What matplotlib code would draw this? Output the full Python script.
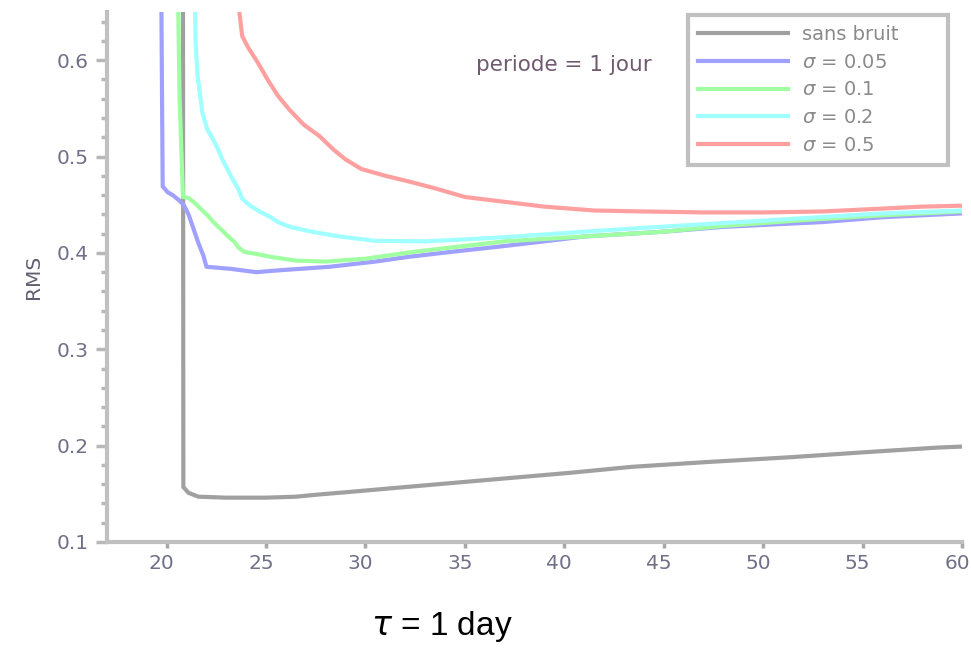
import matplotlib
matplotlib.use("Agg")
import matplotlib.pyplot as plt
from matplotlib.ticker import MultipleLocator
from matplotlib.transforms import ScaledTranslation

# RMS error against window length, one curve per noise level
tau_sb = [20.82, 20.84, 21.1, 21.6, 23.0, 25.0, 26.5, 27.5, 29.0, 32.0, 34.8,
          37.6, 40.4, 43.4, 47.2, 51.4, 55.0, 58.8, 60.0]
rms_sb = [0.70, 0.157, 0.151, 0.147, 0.146, 0.146, 0.147, 0.149, 0.1516, 0.157,
          0.162, 0.167, 0.172, 0.178, 0.183, 0.188, 0.193, 0.198, 0.199]

tau_005 = [19.72, 19.8, 20.05, 20.3, 20.6, 20.85, 21.1, 21.35, 21.6, 21.85, 22.0,
           23.2, 24.5, 25.7, 28.2, 30.5, 32.2, 34.5, 36.8, 39.0, 41.0, 45.0,
           48.0, 53.0, 56.0, 60.0]
rms_005 = [0.70, 0.469, 0.463, 0.460, 0.455, 0.450, 0.440, 0.425, 0.410, 0.397,
           0.3856, 0.3835, 0.380, 0.382, 0.3856, 0.391, 0.396, 0.4015, 0.4067,
           0.412, 0.417, 0.422, 0.427, 0.432, 0.437, 0.441]

tau_01 = [20.55, 20.65, 20.82, 21.1, 21.35, 21.6, 21.85, 22.1, 22.35, 22.6,
          22.86, 23.1, 23.4, 23.6, 23.9, 24.5, 25.2, 26.5, 28.0, 30.0, 32.4,
          34.9, 37.0, 41.0, 45.0, 48.0, 52.0, 56.0, 60.0]
rms_01 = [0.70, 0.56, 0.458, 0.457, 0.453, 0.448, 0.443, 0.438, 0.432, 0.427,
          0.422, 0.417, 0.4115, 0.406, 0.401, 0.399, 0.396, 0.392, 0.391, 0.394,
          0.401, 0.407, 0.412, 0.417, 0.422, 0.428, 0.434, 0.439, 0.443]

tau_02 = [21.4, 21.45, 21.55, 21.8, 22.05, 22.3, 22.55, 22.8, 23.05, 23.3, 23.6,
          23.8, 24.2, 24.7, 25.2, 25.6, 26.2, 27.3, 28.7, 30.5, 33.0, 35.5,
          37.5, 41.0, 44.0, 48.0, 52.0, 56.0, 60.0]
rms_02 = [0.70, 0.621, 0.585, 0.545, 0.528, 0.519, 0.509, 0.497, 0.487, 0.477,
          0.4665, 0.456, 0.449, 0.4427, 0.4375, 0.432, 0.427, 0.422, 0.417,
          0.4125, 0.412, 0.4145, 0.417, 0.422, 0.426, 0.431, 0.436, 0.441, 0.444]

tau_05 = [23.6, 23.8, 24.1, 24.6, 25.1, 25.6, 26.2, 26.9, 27.7, 28.4, 29.0, 29.8,
          31.0, 32.2, 33.5, 35.0, 37.0, 39.0, 41.5, 44.0, 47.0, 50.0, 53.0,
          56.0, 58.0, 60.0]
rms_05 = [0.66, 0.625, 0.613, 0.597, 0.579, 0.563, 0.548, 0.533, 0.521, 0.507,
          0.497, 0.487, 0.480, 0.474, 0.467, 0.458, 0.453, 0.448, 0.444, 0.443,
          0.442, 0.442, 0.443, 0.446, 0.448, 0.449]

labels = ["sans bruit", "$\\sigma$ = 0.05", "$\\sigma$ = 0.1",
          "$\\sigma$ = 0.2", "$\\sigma$ = 0.5"]
colors = ["#a0a0a0", "#a0a0ff", "#a0ffa0", "#a0ffff", "#ffa0a0"]

fig = plt.figure(figsize=(9.71, 6.48), dpi=100)
ax = fig.add_axes([0.1102, 0.1636, 0.8805, 0.8179])

curves = [(tau_sb, rms_sb), (tau_005, rms_005), (tau_01, rms_01),
          (tau_02, rms_02), (tau_05, rms_05)]
for (t, r), c, lab in zip(curves, colors, labels):
    ax.plot(t, r, color=c, lw=3, label=lab, solid_joinstyle="round")

ax.set_xlim(17, 60)
ax.set_ylim(0.1, 0.65)
ax.xaxis.set_major_locator(MultipleLocator(5))
ax.yaxis.set_major_locator(MultipleLocator(0.1))
ax.yaxis.set_minor_locator(MultipleLocator(0.02))
ax.yaxis.set_major_formatter(plt.FuncFormatter(lambda v, p: "%.1f" % v))

for s in ["top", "right"]:
    ax.spines[s].set_visible(False)
for s in ["left", "bottom"]:
    ax.spines[s].set_color("#c0c0c0")
    ax.spines[s].set_linewidth(3)

tick_col = "#707088"
ax.tick_params(axis="x", which="major", length=4, width=2.5, color="#a8a8a8",
               labelsize=14.5, labelcolor=tick_col, pad=5)
ax.tick_params(axis="y", which="major", length=8, width=2.5, color="#b8b8b8",
               labelsize=14.5, labelcolor=tick_col, pad=5)
ax.tick_params(axis="y", which="minor", length=4, width=2.5, color="#b8b8b8")

# nudge the x labels a little to the left of their ticks
shift = ScaledTranslation(-5 / 100, 0, fig.dpi_scale_trans)
for lbl in ax.get_xticklabels():
    lbl.set_transform(lbl.get_transform() + shift)

ax.set_ylabel("RMS", fontsize=14.5, color="#606070")
ax.yaxis.set_label_coords(-0.075, 0.5)

ax.text(40, 0.595, "periode = 1 jour", fontsize=15.5, color="#705a70",
        ha="center", va="center")

leg = ax.legend(loc="upper left", bbox_to_anchor=(0.68, 0.6, 0.304, 0.394),
                mode="expand", borderaxespad=0, fontsize=14, handlelength=4.6,
                handletextpad=0.75, labelspacing=0.45, borderpad=0.5,
                fancybox=False, framealpha=1)
leg.get_frame().set_edgecolor("#c0c0c0")
leg.get_frame().set_linewidth(3)
for t in leg.get_texts():
    t.set_color("#8a8a8a")

fig.text(0.455, 0.033, "$\\tau$ = 1 day", fontsize=24,
         family="Liberation Sans", ha="center", va="center")

fig.savefig("out.png", dpi=100)
